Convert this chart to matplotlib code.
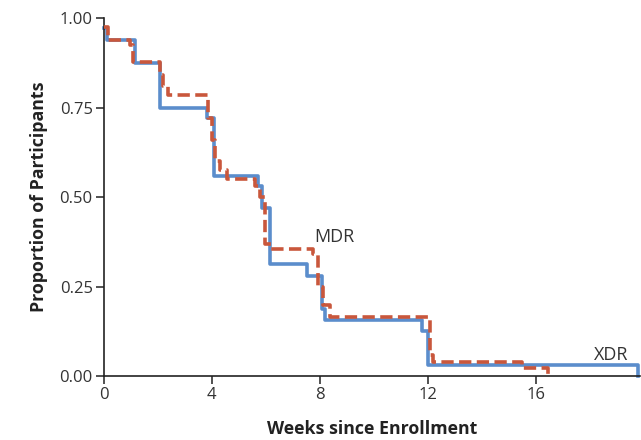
import matplotlib
matplotlib.use('Agg')
import matplotlib.pyplot as plt

# Kaplan-Meier style step data (weeks, proportion remaining)
xdr_weeks = [0, 0.1, 1.15, 2.07, 3.81, 4.07, 5.7, 5.85, 6.15, 7.52, 8.07, 8.19, 11.78, 12.0, 19.8]
xdr_prop = [0.972, 0.938, 0.875, 0.75, 0.72, 0.56, 0.53, 0.47, 0.3125, 0.281, 0.1875, 0.156, 0.125, 0.031, 0.0]

mdr_weeks = [0, 0.15, 0.96, 1.07, 2.07, 2.2, 2.37, 3.85, 4.0, 4.1, 4.3, 4.55, 5.6, 5.78, 5.96, 6.2,
             7.74, 7.93, 8.1, 8.37, 12.07, 12.19, 15.5, 16.44]
mdr_prop = [0.975, 0.94, 0.925, 0.877, 0.84, 0.81, 0.785, 0.72, 0.66, 0.60, 0.575, 0.55, 0.53, 0.50, 0.37, 0.355,
            0.34, 0.25, 0.20, 0.165, 0.059, 0.039, 0.022, 0.0]

x_ticks = [0, 4, 8, 12, 16]
y_ticks = [0.0, 0.25, 0.5, 0.75, 1.0]
y_tick_labels = ['0.00', '0.25', '0.50', '0.75', '1.00']

BLUE = '#5b8dcc'
RED = '#c9573c'

plt.rcParams['font.family'] = ['Open Sans', 'DejaVu Sans']

fig = plt.figure(figsize=(6.41, 4.40), dpi=100)
ax = fig.add_axes([0.162, 0.145, 0.836, 0.814])

ax.step(xdr_weeks, xdr_prop, where='post', color=BLUE, lw=2.6, clip_on=False, zorder=2)
ax.step(mdr_weeks, mdr_prop, where='post', color=RED, lw=2.6, clip_on=False, zorder=3,
        linestyle=(0, (3.4, 1.5)))

ax.text(8.55, 0.39, 'MDR', fontsize=13, color='#333333', ha='center', va='center')
ax.text(18.8, 0.06, 'XDR', fontsize=13, color='#333333', ha='center', va='center')

ax.set_xlim(0, 19.85)
ax.set_ylim(0, 1.0)
ax.set_xticks(x_ticks)
ax.set_yticks(y_ticks)
ax.set_yticklabels(y_tick_labels)
ax.tick_params(direction='out', length=6, width=1.1, colors='#222222', labelsize=12,
               labelcolor='#333333', pad=2)

for side in ['top', 'right']:
    ax.spines[side].set_visible(False)
for side in ['left', 'bottom']:
    ax.spines[side].set_linewidth(1.2)
    ax.spines[side].set_color('#222222')

ax.set_xlabel('Weeks since Enrollment', fontsize=12.8, fontweight='bold', color='#222222', labelpad=12)
ax.set_ylabel('Proportion of Participants', fontsize=12.8, fontweight='bold', color='#222222', labelpad=8)

fig.savefig('out.png', dpi=100)
